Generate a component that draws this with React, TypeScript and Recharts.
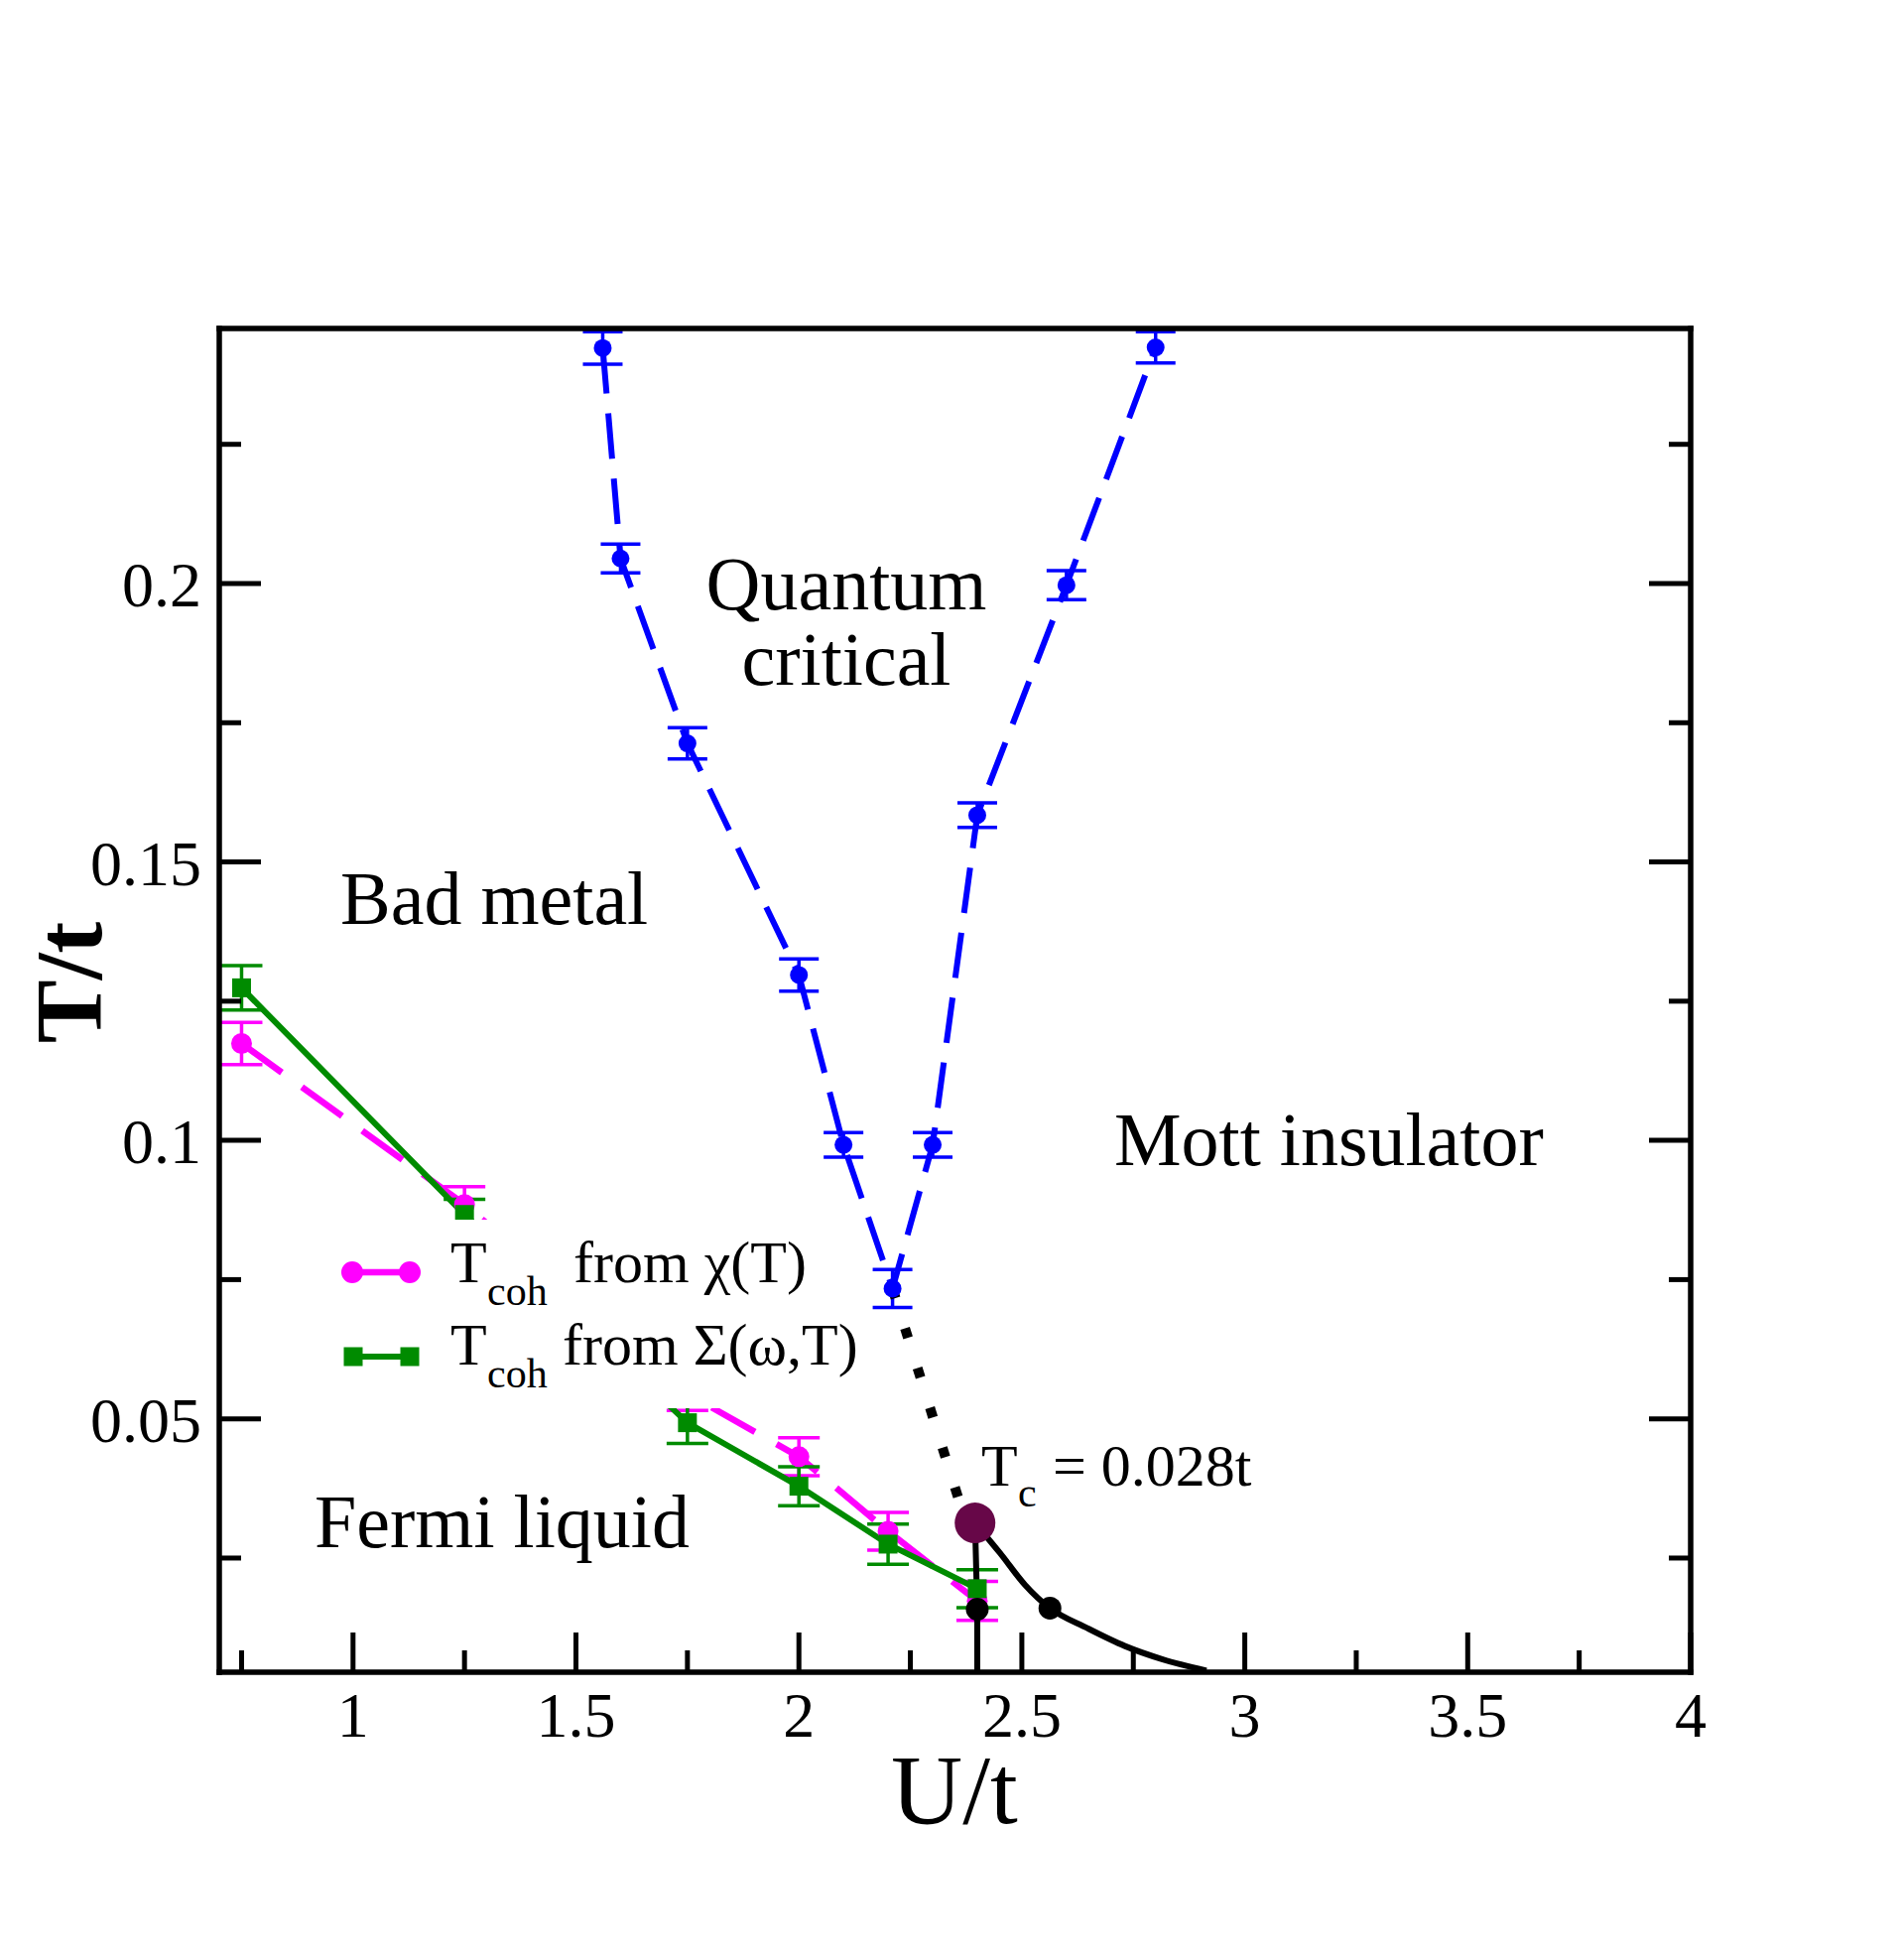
import React from "react"
import { ComposedChart, Line, Scatter, XAxis, YAxis, ErrorBar } from "recharts"

// crossover line of the quantum critical region (blue)
const uCross = [1.56, 1.6, 1.75, 2.0, 2.1, 2.21, 2.3, 2.4, 2.6, 2.8]
const tCross = [0.2423, 0.2045, 0.1713, 0.1297, 0.0992, 0.0734, 0.0992, 0.1584, 0.1997, 0.2424]
const errCross = [0.0029, 0.0026, 0.0028, 0.0029, 0.0022, 0.0034, 0.0022, 0.0022, 0.0026, 0.0028]

// Tcoh from chi(T) (magenta)
const uChi = [0.75, 1.25, 1.75, 2.0, 2.2, 2.4]
const tChi = [0.1174, 0.0885, 0.0545, 0.0432, 0.0298, 0.0173]
const errChi = [0.0038, 0.0032, 0.003, 0.0034, 0.0034, 0.0035]

// Tcoh from Sigma(w,T) (green)
const uSigma = [0.75, 1.25, 1.75, 2.0, 2.2, 2.4]
const tSigma = [0.1274, 0.0867, 0.0493, 0.0379, 0.0275, 0.0195]
const errSigma = [0.004, 0.0027, 0.0037, 0.0035, 0.0036, 0.0034]

// dotted extension down to the critical point
const uDotted = [2.21, 2.382]
const tDotted = [0.0734, 0.0295]

// spinodal lines below Tc
const uSpinA = [2.395, 2.4, 2.4]
const tSpinA = [0.0313, 0.0158, 0.0045]
const uSpinB = [2.395, 2.451, 2.507, 2.563, 2.647, 2.731, 2.816, 2.914]
const tSpinB = [0.0313, 0.0259, 0.0202, 0.016, 0.0124, 0.0092, 0.0068, 0.0048]

const uDots = [2.4, 2.563]
const tDots = [0.0158, 0.016]

const uTc = [2.395]
const tTc = [0.0313]

const xTicks = [0.75, 1, 1.25, 1.5, 1.75, 2, 2.25, 2.5, 2.75, 3, 3.25, 3.5, 3.75, 4]
const yTicks = [0.025, 0.05, 0.075, 0.1, 0.125, 0.15, 0.175, 0.2, 0.225]

const FONT = "'Liberation Serif', 'Times New Roman', Times, serif"
const BLUE = "#0000ff"
const MAGENTA = "#ff00ff"
const GREEN = "#008b00"
const MAROON = "#670748"

const rows = (u: number[], t: number[], e?: number[]) =>
  u.map((v, i) => ({ u: v, t: t[i], err: e ? e[i] : 0 }))

const isMajor = (v: number, step: number) => Math.abs(v / step - Math.round(v / step)) < 1e-6

function BottomTick({ x, y, payload }: any) {
  const major = isMajor(payload.value, 0.5)
  return (
    <g>
      <line x1={x} x2={x} y1={y} y2={y - (major ? 40 : 22)} stroke="#000" strokeWidth={5} />
      {major && (
        <text x={x} y={y + 65} textAnchor="middle" fontSize={64} fontFamily={FONT} fill="#000">
          {payload.value}
        </text>
      )}
    </g>
  )
}

function TopTick({ x, y, payload }: any) {
  const major = isMajor(payload.value, 0.5)
  return <line x1={x} x2={x} y1={y} y2={y + (major ? 40 : 22)} stroke="#000" strokeWidth={5} />
}

function LeftTick({ x, y, payload }: any) {
  const major = isMajor(payload.value, 0.05)
  return (
    <g>
      <line x1={x} x2={x + (major ? 42 : 22)} y1={y} y2={y} stroke="#000" strokeWidth={5} />
      {major && (
        <text x={x - 18} y={y + 23} textAnchor="end" fontSize={64} fontFamily={FONT} fill="#000">
          {payload.value}
        </text>
      )}
    </g>
  )
}

function RightTick({ x, y, payload }: any) {
  const major = isMajor(payload.value, 0.05)
  return <line x1={x} x2={x - (major ? 42 : 22)} y1={y} y2={y} stroke="#000" strokeWidth={5} />
}

const circleDot = (r: number, fill: string) => (p: any) =>
  <circle key={`c${p.index}`} cx={p.cx} cy={p.cy} r={r} fill={fill} />

const squareDot = (s: number, fill: string) => (p: any) =>
  <rect key={`s${p.index}`} x={p.cx - s / 2} y={p.cy - s / 2} width={s} height={s} fill={fill} />

const axisLine = { stroke: "#000", strokeWidth: 5.5, strokeLinecap: "square" as const }

export default function App() {
  return (
    <div style={{ position: "absolute", left: 0, top: 0, width: 1917, height: 1975, background: "#fff" }}>
      <ComposedChart width={1917} height={1975} margin={{ top: 330, right: 212, bottom: 190, left: 71 }}>
        <XAxis
          xAxisId="b"
          dataKey="u"
          type="number"
          domain={[0.7, 4]}
          allowDataOverflow
          ticks={xTicks}
          interval={0}
          height={100}
          tickSize={0}
          tickMargin={0}
          tickLine={false}
          axisLine={axisLine}
          tick={<BottomTick />}
        />
        <XAxis
          xAxisId="t"
          orientation="top"
          type="number"
          domain={[0.7, 4]}
          allowDataOverflow
          ticks={xTicks}
          interval={0}
          height={1}
          tickSize={0}
          tickMargin={0}
          tickLine={false}
          axisLine={axisLine}
          tick={<TopTick />}
        />
        <YAxis
          yAxisId="l"
          dataKey="t"
          type="number"
          domain={[0.0045, 0.2458]}
          allowDataOverflow
          ticks={yTicks}
          interval={0}
          width={150}
          tickSize={0}
          tickMargin={0}
          tickLine={false}
          axisLine={axisLine}
          tick={<LeftTick />}
        />
        <YAxis
          yAxisId="r"
          orientation="right"
          type="number"
          domain={[0.0045, 0.2458]}
          allowDataOverflow
          ticks={yTicks}
          interval={0}
          width={1}
          tickSize={0}
          tickMargin={0}
          tickLine={false}
          axisLine={axisLine}
          tick={<RightTick />}
        />

        <Line
          xAxisId="b"
          yAxisId="l"
          data={rows(uChi, tChi, errChi)}
          dataKey="t"
          type="linear"
          stroke={MAGENTA}
          strokeWidth={6.5}
          strokeDasharray="50 25"
          dot={circleDot(10.5, MAGENTA)}
          activeDot={false}
          isAnimationActive={false}
        >
          <ErrorBar dataKey="err" width={21} stroke={MAGENTA} strokeWidth={3.5} direction="y" />
        </Line>

        <Line
          xAxisId="b"
          yAxisId="l"
          data={rows(uSigma, tSigma, errSigma)}
          dataKey="t"
          type="linear"
          stroke={GREEN}
          strokeWidth={6}
          dot={squareDot(19, GREEN)}
          activeDot={false}
          isAnimationActive={false}
        >
          <ErrorBar dataKey="err" width={21} stroke={GREEN} strokeWidth={3.5} direction="y" />
        </Line>

        <Line
          xAxisId="b"
          yAxisId="l"
          data={rows(uCross, tCross, errCross)}
          dataKey="t"
          type="linear"
          stroke={BLUE}
          strokeWidth={6}
          strokeDasharray="46 20"
          dot={circleDot(9, BLUE)}
          activeDot={false}
          isAnimationActive={false}
        >
          <ErrorBar dataKey="err" width={20} stroke={BLUE} strokeWidth={3.5} direction="y" />
        </Line>

        <Line
          xAxisId="b"
          yAxisId="l"
          data={rows(uDotted, tDotted)}
          dataKey="t"
          type="linear"
          stroke="#000"
          strokeWidth={10}
          strokeDasharray="10 32"
          dot={false}
          activeDot={false}
          isAnimationActive={false}
        />

        <Line
          xAxisId="b"
          yAxisId="l"
          data={rows(uSpinA, tSpinA)}
          dataKey="t"
          type="linear"
          stroke="#000"
          strokeWidth={6}
          dot={false}
          activeDot={false}
          isAnimationActive={false}
        />

        <Line
          xAxisId="b"
          yAxisId="l"
          data={rows(uSpinB, tSpinB)}
          dataKey="t"
          type="monotone"
          stroke="#000"
          strokeWidth={6}
          dot={false}
          activeDot={false}
          isAnimationActive={false}
        />

        <Scatter
          xAxisId="b"
          yAxisId="l"
          data={rows(uDots, tDots)}
          isAnimationActive={false}
          shape={(p: any) => <circle cx={p.cx} cy={p.cy} r={11.5} fill="#000" />}
        />

        <Scatter
          xAxisId="b"
          yAxisId="l"
          data={rows(uTc, tTc)}
          isAnimationActive={false}
          shape={(p: any) => <circle cx={p.cx} cy={p.cy} r={20.5} fill={MAROON} />}
        />
      </ComposedChart>

      <svg
        width={1917}
        height={1975}
        style={{ position: "absolute", left: 0, top: 0, pointerEvents: "none" }}
        fontFamily={FONT}
      >
        {/* legend */}
        <rect x={330} y={1229} width={542} height={190} fill="#fff" />
        <line x1={355} x2={413} y1={1282} y2={1282} stroke={MAGENTA} strokeWidth={6.5} />
        <circle cx={355} cy={1282} r={11} fill={MAGENTA} />
        <circle cx={413} cy={1282} r={11} fill={MAGENTA} />
        <text x={454} y={1292} fontSize={60} fill="#000">T</text>
        <text x={491} y={1315} fontSize={42} fill="#000">coh</text>
        <text x={578} y={1292} fontSize={60} fill="#000">from χ(T)</text>

        <line x1={356} x2={413} y1={1367} y2={1367} stroke={GREEN} strokeWidth={6} />
        <rect x={346.5} y={1357.5} width={19} height={19} fill={GREEN} />
        <rect x={403.5} y={1357.5} width={19} height={19} fill={GREEN} />
        <text x={454} y={1375} fontSize={60} fill="#000">T</text>
        <text x={491} y={1398} fontSize={42} fill="#000">coh</text>
        <text x={567} y={1375} fontSize={60} fill="#000">from Σ(ω,T)</text>

        {/* region labels */}
        <text x={853} y={614} fontSize={76} textAnchor="middle" fill="#000">Quantum</text>
        <text x={853} y={690} fontSize={76} textAnchor="middle" fill="#000">critical</text>
        <text x={343} y={931} fontSize={76} fill="#000">Bad metal</text>
        <text x={1123} y={1174} fontSize={76} fill="#000">Mott insulator</text>
        <text x={317} y={1559} fontSize={76} fill="#000">Fermi liquid</text>

        <text x={989} y={1497} fontSize={60} fill="#000">T</text>
        <text x={1026} y={1518} fontSize={42} fill="#000">c</text>
        <text x={1061} y={1497} fontSize={60} fill="#000">= 0.028t</text>

        {/* axis titles */}
        <text x={962} y={1837} fontSize={100} textAnchor="middle" fill="#000">U/t</text>
        <text
          x={102}
          y={990}
          fontSize={96}
          fontWeight="bold"
          textAnchor="middle"
          transform="rotate(-90 102 990)"
          fill="#000"
        >
          T/t
        </text>
      </svg>
    </div>
  )
}
